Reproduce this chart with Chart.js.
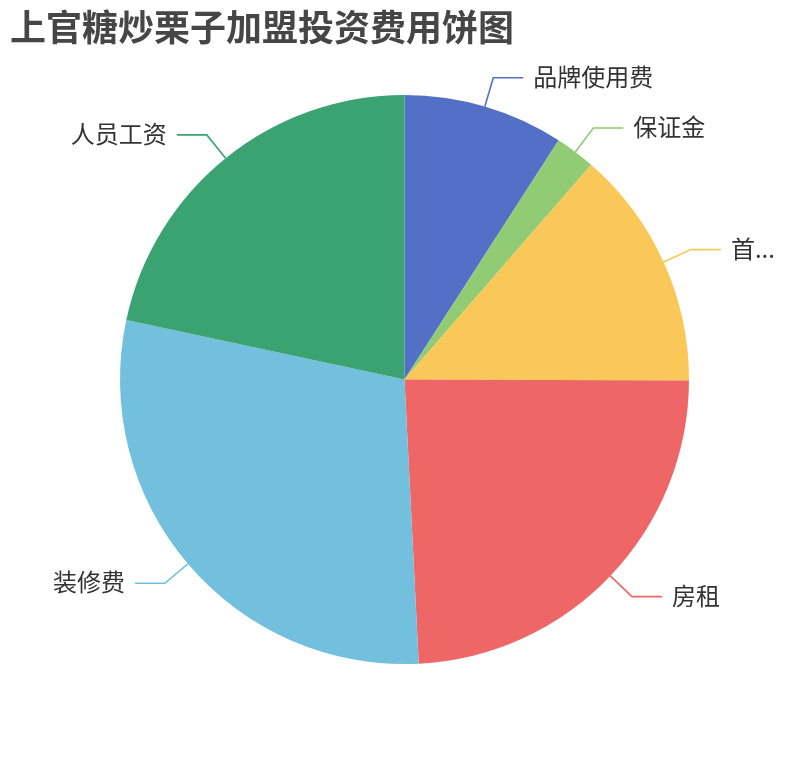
<!DOCTYPE html>
<html>
<head>
<meta charset="utf-8">
<script src="https://cdn.jsdelivr.net/npm/chart.js@4.4.0/dist/chart.umd.min.js"></script>
<style>
  body { margin: 0; background: #fff; }
  #wrap { position: relative; width: 810px; height: 760px; }
  #title {
    position: absolute; left: 10px; top: 7px; margin: 0;
    font: bold 36px/36px "Noto Sans CJK SC", sans-serif; color: #464646;
  }
</style>
</head>
<body>
<div id="wrap">
  <canvas id="pieChart" width="810" height="760"></canvas>
  <h1 id="title">上官糖炒栗子加盟投资费用饼图</h1>
</div>
<script>
// data (share of total, roughly in 万元)
const categories = ['品牌使用费', '保证金', '首...', '房租', '装修费', '人员工资'];
const costValues = [4, 1, 6, 10.6, 12.8, 9.5];
const sliceColors = ['#5470c6', '#91cc75', '#fac858', '#ee6666', '#73c0de', '#3ba272'];

// outside labels with a two part leader line, like the reference
const outsideLabels = {
  id: 'outsideLabels',
  afterDatasetsDraw(chart) {
    const ctx = chart.ctx;
    const meta = chart.getDatasetMeta(0);
    ctx.save();
    ctx.font = '24px "Noto Sans CJK SC", sans-serif';
    ctx.textBaseline = 'middle';
    meta.data.forEach((arc, i) => {
      const p = arc.getProps(['x', 'y', 'startAngle', 'endAngle', 'outerRadius'], true);
      const mid = (p.startAngle + p.endAngle) / 2;
      const cos = Math.cos(mid), sin = Math.sin(mid);
      const x1 = p.x + cos * p.outerRadius, y1 = p.y + sin * p.outerRadius;
      const x2 = x1 + cos * 30, y2 = y1 + sin * 30;
      const right = cos >= 0;
      const x3 = x2 + (right ? 30 : -30);
      ctx.strokeStyle = sliceColors[i];
      ctx.lineWidth = 1.6;
      ctx.beginPath();
      ctx.moveTo(x1, y1);
      ctx.lineTo(x2, y2);
      ctx.lineTo(x3, y2);
      ctx.stroke();
      ctx.fillStyle = '#333';
      ctx.textAlign = right ? 'left' : 'right';
      ctx.fillText(categories[i], x3 + (right ? 10 : -10), y2 - 1);
    });
    ctx.restore();
  }
};

const pie = document.getElementById('pieChart');
new Chart(pie, {
  type: 'pie',
  data: {
    labels: categories,
    datasets: [{
      data: costValues,
      backgroundColor: sliceColors,
      borderWidth: 0
    }]
  },
  options: {
    responsive: false,
    animation: false,
    layout: { padding: { top: 95, bottom: 96, left: 120, right: 121 } },
    plugins: {
      legend: { display: false },
      tooltip: { enabled: false }
    }
  },
  plugins: [outsideLabels]
});
</script>
</body>
</html>
